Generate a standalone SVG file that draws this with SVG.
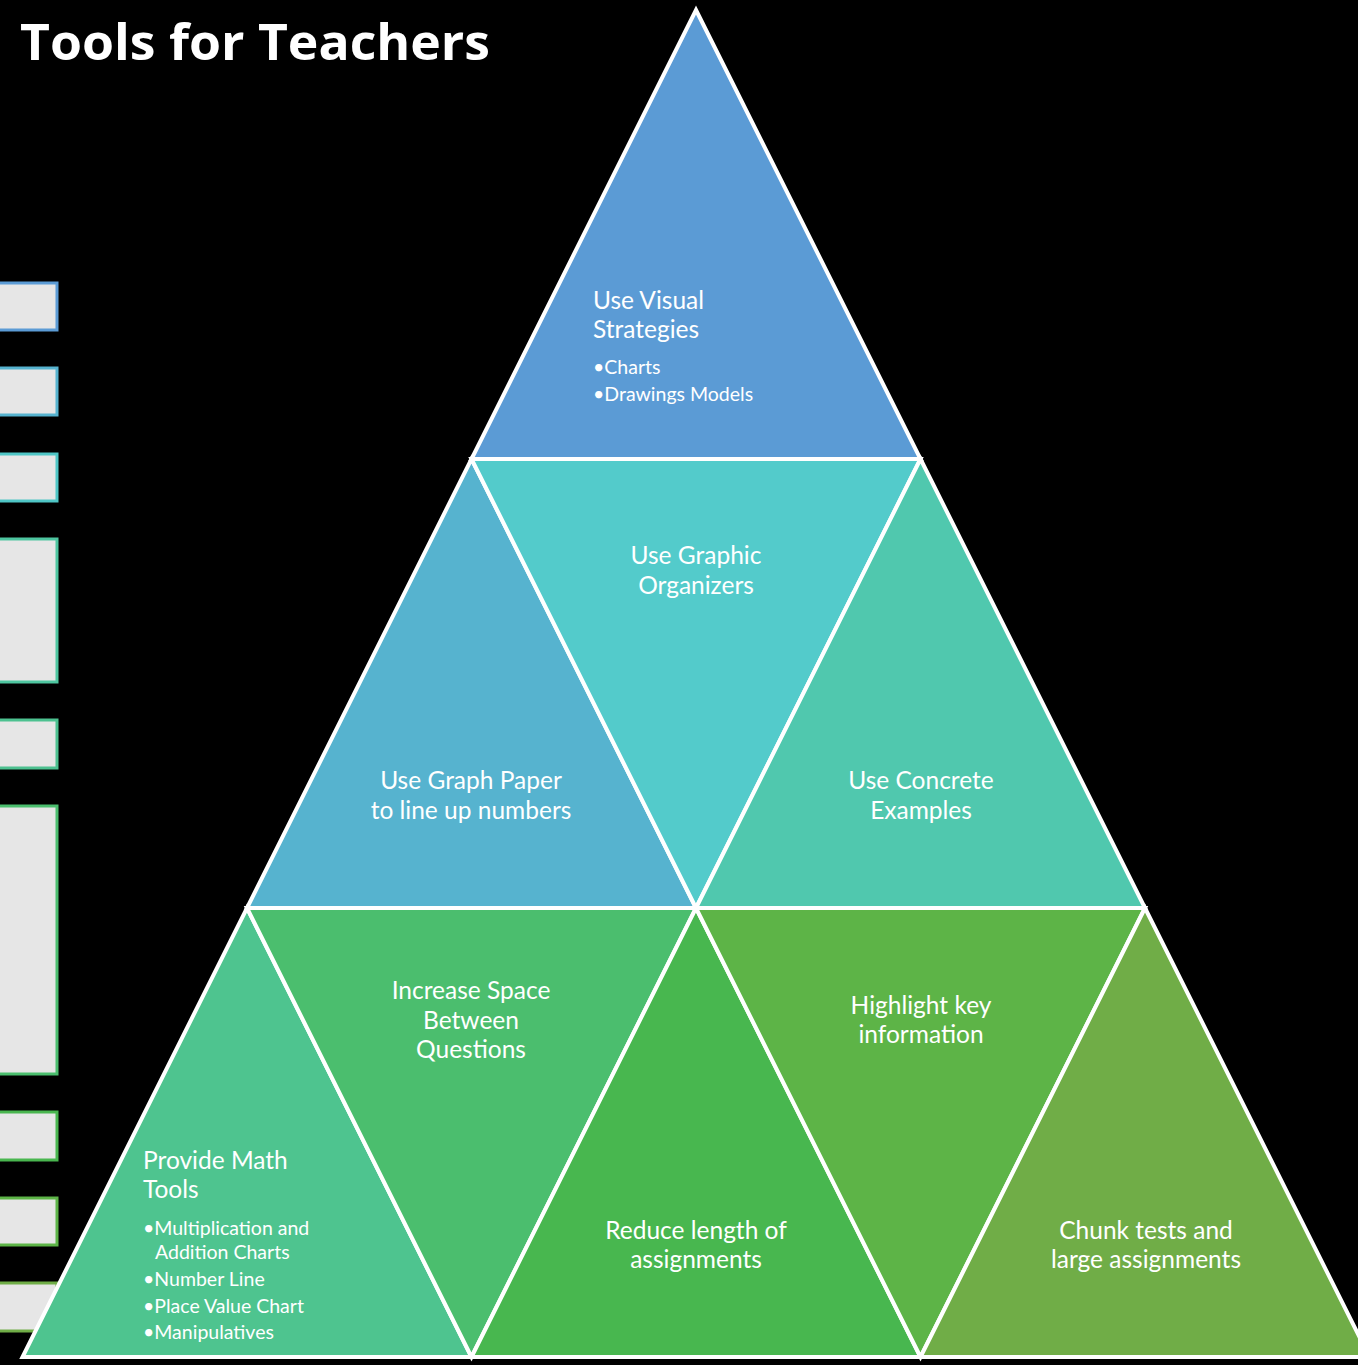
<svg xmlns="http://www.w3.org/2000/svg" width="1358" height="1365" viewBox="0 0 1358 1365">
<style>
.tri{stroke:#FFFFFF;stroke-width:4;stroke-linejoin:miter}
.box{fill:#E6E6E6;stroke-width:3}
.lbl{font-family:Lato,"Open Sans","Liberation Sans",sans-serif;font-size:24.5px;fill:#FFFFFF}
.c{text-anchor:middle}
.sm{font-family:Lato,"Open Sans","Liberation Sans",sans-serif;font-size:19.5px;fill:#FFFFFF}
.title{font-family:"Open Sans","Liberation Sans",sans-serif;font-weight:bold;font-size:50px;fill:#FFFFFF}
</style>
<rect width="1358" height="1365" fill="#000000"/>
<text class="title" x="20" y="60" textLength="470" lengthAdjust="spacingAndGlyphs">Tools for Teachers</text>
<g id="side-boxes">
<rect class="box" x="-10" y="283" width="67" height="47" stroke="#5B9BD5"/>
<rect class="box" x="-10" y="368" width="67" height="47" stroke="#56B3CF"/>
<rect class="box" x="-10" y="454" width="67" height="47" stroke="#4FC6C6"/>
<rect class="box" x="-10" y="539" width="67" height="143" stroke="#4EC6A0"/>
<rect class="box" x="-10" y="720" width="67" height="48" stroke="#4DC190"/>
<rect class="box" x="-10" y="806" width="67" height="268" stroke="#4BBE6E"/>
<rect class="box" x="-10" y="1112" width="67" height="48" stroke="#49B64F"/>
<rect class="box" x="-10" y="1198" width="67" height="47" stroke="#5DB447"/>
<rect class="box" x="-10" y="1283" width="67" height="48" stroke="#70AD47"/>
</g>
<g id="n1"><polygon class="tri" points="696,10 920.5,459 471.5,459" fill="#5B9BD5"/>
<text class="lbl" x="593" y="309">Use Visual</text><text class="lbl" x="593" y="338">Strategies</text>
<text class="sm" x="593" y="374">•Charts</text><text class="sm" x="593" y="401">•Drawings Models</text></g>
<g id="n2"><polygon class="tri" points="471.5,459 696,908 247,908" fill="#56B3CF"/>
<text class="lbl c" x="471" y="789">Use Graph Paper</text><text class="lbl c" x="471" y="819">to line up numbers</text></g>
<g id="n3"><polygon class="tri" points="471.5,459 920.5,459 696,908" fill="#53CBCB"/>
<text class="lbl c" x="696" y="564">Use Graphic</text><text class="lbl c" x="696" y="594">Organizers</text></g>
<g id="n4"><polygon class="tri" points="920.5,459 1145,908 696,908" fill="#50C8AE"/>
<text class="lbl c" x="921" y="789">Use Concrete</text><text class="lbl c" x="921" y="819">Examples</text></g>
<g id="n5"><polygon class="tri" points="247,908 471.5,1357 22.5,1357" fill="#4EC48F"/>
<text class="lbl" x="143" y="1169">Provide Math</text><text class="lbl" x="143" y="1198">Tools</text>
<text class="sm" x="143" y="1235">•Multiplication and</text><text class="sm" x="155" y="1259">Addition Charts</text>
<text class="sm" x="143" y="1286">•Number Line</text><text class="sm" x="143" y="1313">•Place Value Chart</text>
<text class="sm" x="143" y="1339">•Manipulatives</text></g>
<g id="n6"><polygon class="tri" points="247,908 696,908 471.5,1357" fill="#4BBE6E"/>
<text class="lbl c" x="471" y="999">Increase Space</text><text class="lbl c" x="471" y="1029">Between</text><text class="lbl c" x="471" y="1058">Questions</text></g>
<g id="n7"><polygon class="tri" points="696,908 920.5,1357 471.5,1357" fill="#48B74F"/>
<text class="lbl c" x="696" y="1239">Reduce length of</text><text class="lbl c" x="696" y="1268">assignments</text></g>
<g id="n8"><polygon class="tri" points="696,908 1145,908 920.5,1357" fill="#5DB447"/>
<text class="lbl c" x="921" y="1014">Highlight key</text><text class="lbl c" x="921" y="1043">information</text></g>
<g id="n9"><polygon class="tri" points="1145,908 1369.5,1357 920.5,1357" fill="#70AD47"/>
<text class="lbl c" x="1146" y="1239">Chunk tests and</text><text class="lbl c" x="1146" y="1268">large assignments</text></g>
<g id="connectors"></g>
</svg>
